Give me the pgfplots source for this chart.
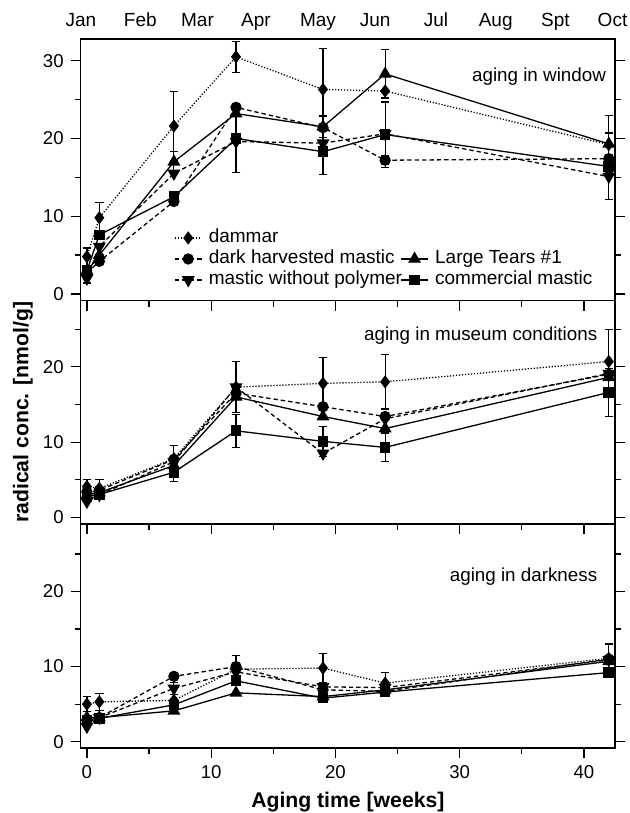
\documentclass[border=0pt]{standalone}
\usepackage{fontspec}
\setmainfont{Liberation Sans}
\usepackage{pgfplots}
\usepackage{pgfplotstable}
\pgfplotsset{compat=1.18}

% ---------- aging in window ----------
\pgfplotstableread{
x y e
0 4.8 1.1
1 9.8 2.0
7 21.6 4.4
12 30.5 2.0
19 26.3 5.3
24 26.1 0
42 19.2 0
}\WinDam
\pgfplotstableread{
x y e
0 2.7 0
1 4.2 0
7 11.9 0
12 24.0 0.4
19 21.4 0
24 17.2 0.6
42 17.4 0.5
}\WinDark
\pgfplotstableread{
x y e
0 2.9 0
1 5.0 0
7 17.0 1.3
12 23.2 0
19 21.5 1.4
24 28.3 3.1
42 19.3 3.7
}\WinLT
\pgfplotstableread{
x y e
0 2.0 0.6
1 6.1 0
7 15.5 0
12 19.6 0
19 19.4 0
24 20.6 0
42 15.1 0
}\WinMwp
\pgfplotstableread{
x y e
0 3.0 0
1 7.6 0
7 12.5 0
12 20.0 4.4
19 18.3 2.9
24 20.5 4.2
42 16.4 4.3
}\WinCom

% ---------- aging in museum conditions ----------
\pgfplotstableread{
x y e
0 4.1 0.9
1 3.85 1.15
7 7.8 1.8
12 17.3 3.4
19 17.8 3.4
24 18.0 3.6
42 20.7 4.2
}\MusDam
\pgfplotstableread{
x y e
0 3.4 0
1 3.6 0
7 7.7 0
12 16.5 0
19 14.7 0
24 13.4 0
42 19.0 0
}\MusDark
\pgfplotstableread{
x y e
0 3.0 0
1 3.3 0
7 6.9 0
12 16.0 0
19 13.4 0
24 11.8 0
42 18.6 0
}\MusLT
\pgfplotstableread{
x y e
0 2.1 0
1 3.0 0
7 7.4 0
12 17.3 0
19 8.5 0
24 13.1 0
42 19.1 0
}\MusMwp
\pgfplotstableread{
x y e
0 2.8 0
1 3.05 0
7 6.0 1.2
12 11.5 2.2
19 10.1 2.0
24 9.3 1.9
42 16.6 3.2
}\MusCom

% ---------- aging in darkness ----------
\pgfplotstableread{
x y e
0 5.0 1.0
1 5.3 1.15
7 5.5 0
12 9.65 1.8
19 9.8 1.9
24 7.8 1.4
42 11.1 1.9
}\DarkDam
\pgfplotstableread{
x y e
0 2.9 0
1 3.2 0
7 8.7 0
12 10.0 0
19 6.9 0
24 6.7 0
42 11.0 0
}\DarkDark
\pgfplotstableread{
x y e
0 3.2 0
1 3.2 0
7 4.1 0
12 6.5 0
19 6.0 0
24 6.9 0
42 10.7 0
}\DarkLT
\pgfplotstableread{
x y e
0 2.0 0
1 3.2 0
7 7.1 0.8
12 9.3 0
19 7.3 0
24 7.2 0
42 10.9 0
}\DarkMwp
\pgfplotstableread{
x y e
0 2.9 0
1 3.1 0
7 4.9 0
12 8.1 0
19 5.8 0
24 6.6 0
42 9.2 0
}\DarkCom

\tikzset{monthlab/.style={anchor=base, yshift=6pt, font=\fontsize{9.5}{10}\selectfont},
  annot/.style={anchor=east, inner sep=0pt, font=\fontsize{9.4}{10}\selectfont}}
\pgfplotsset{
  panel/.style={
    scale only axis, width=267.15pt,
    xmin=-0.5, xmax=42.5,
    axis line style={line width=0.65pt},
    tick style={line width=0.6pt, black},
    tick align=outside,
    major tick length=5pt, minor tick length=3pt,
    xtick={0,10,...,40}, minor xtick={5,15,...,35},
    ytick={0,10,20,30}, minor ytick={5,15,25},
    xtick pos=left, ytick pos=both, yticklabel pos=left,
    /pgf/number format/assume math mode=true,
    ticklabel style={font=\fontsize{9.3}{10}\selectfont},
    clip mode=individual,
    every axis plot/.append style={line width=0.65pt, black},
    error bars/y dir=both, error bars/y explicit,
    error bars/error bar style={line width=0.6pt, solid},
    error bars/error mark options={line width=0.6pt, solid, mark size=2.1pt, rotate=90},
  },
  sDam/.style={dash pattern=on 0.6pt off 0.9pt, mark=diamond*, mark size=2.8pt, mark options={solid}},
  sDark/.style={dash pattern=on 2.2pt off 1.5pt, mark=*, mark size=2.5pt, mark options={solid}},
  sLT/.style={solid, mark=triangle*, mark size=3.1pt, mark options={solid}},
  sMwp/.style={dash pattern=on 2.2pt off 1.5pt, mark=triangle*, mark size=3.1pt, mark options={solid, rotate=180}},
  sCom/.style={solid, mark=square*, mark size=2.35pt, mark options={solid}},
}
\newcommand{\lgap}{\hspace*{4pt}}

\begin{document}
\begin{tikzpicture}
\useasboundingbox (-40.35pt,19.5pt) rectangle (274.65pt,-387pt);

% ===== top panel =====
\begin{axis}[panel, at={(0pt,0pt)}, anchor=north west,
  height=130.75pt, ymin=-0.84, ymax=32.79, xticklabels={},
  legend columns=2,
  legend style={at={(axis cs:7.0,4.5)}, anchor=west, draw=none, fill=none,
    inner sep=0pt, font=\fontsize{9.5}{10}\selectfont,
    nodes={inner ysep=0.6pt, inner xsep=2.5pt, text height=7pt, text depth=2pt},
    column sep=-3.2pt, row sep=0.3pt},
  legend cell align=left,
  legend image code/.code={\draw[mark repeat=2,mark phase=2] plot coordinates {(0pt,0pt) (6.65pt,0pt) (13.3pt,0pt)};},
]
\addplot[sDam] table[x=x,y=y,y error=e]{\WinDam};
\addlegendentry{\lgap dammar}
\addlegendimage{empty legend}
\addlegendentry{}
\addplot[sDark] table[x=x,y=y,y error=e]{\WinDark};
\addlegendentry{\lgap dark harvested mastic}
\addplot[sLT] table[x=x,y=y,y error=e]{\WinLT};
\addlegendentry{\lgap Large Tears \#1}
\addplot[sMwp] table[x=x,y=y,y error=e]{\WinMwp};
\addlegendentry{\lgap mastic without polymer}
\addplot[sCom] table[x=x,y=y,y error=e]{\WinCom};
\addlegendentry{\lgap commercial mastic}
\node[annot] at (axis cs:41.8,28.0) {aging in window};
\node[monthlab] at (axis cs:-0.48,32.79) {Jan};
\node[monthlab] at (axis cs:4.3,32.79) {Feb};
\node[monthlab] at (axis cs:8.9,32.79) {Mar};
\node[monthlab] at (axis cs:13.6,32.79) {Apr};
\node[monthlab] at (axis cs:18.6,32.79) {May};
\node[monthlab] at (axis cs:23.2,32.79) {Jun};
\node[monthlab] at (axis cs:28.1,32.79) {Jul};
\node[monthlab] at (axis cs:32.9,32.79) {Aug};
\node[monthlab] at (axis cs:37.7,32.79) {Spt};
\node[monthlab] at (axis cs:42.3,32.79) {Oct};
\end{axis}

% ===== middle panel =====
\begin{axis}[panel, at={(0pt,-130.75pt)}, anchor=north west,
  height=111.75pt, ymin=-0.87, ymax=28.8, xticklabels={},
  ylabel={radical conc. [nmol/g]},
  ylabel style={at={(rel axis cs:0,0.5)}, yshift=28.85pt, anchor=center,
    font=\bfseries\fontsize{10.6}{12}\selectfont},
]
\addplot[sDam] table[x=x,y=y,y error=e]{\MusDam};
\addplot[sDark] table[x=x,y=y,y error=e]{\MusDark};
\addplot[sLT] table[x=x,y=y,y error=e]{\MusLT};
\addplot[sMwp] table[x=x,y=y,y error=e]{\MusMwp};
\addplot[sCom] table[x=x,y=y,y error=e]{\MusCom};
\node[annot] at (axis cs:41.1,24.2) {aging in museum conditions};
\end{axis}

% ===== bottom panel =====
\begin{axis}[panel, at={(0pt,-242.5pt)}, anchor=north west,
  height=112pt, ymin=-0.85, ymax=29.0,
  xlabel={Aging time [weeks]},
  xlabel style={font=\bfseries\fontsize{10.6}{12}\selectfont, yshift=0pt},
]
\addplot[sDam] table[x=x,y=y,y error=e]{\DarkDam};
\addplot[sDark] table[x=x,y=y,y error=e]{\DarkDark};
\addplot[sLT] table[x=x,y=y,y error=e]{\DarkLT};
\addplot[sMwp] table[x=x,y=y,y error=e]{\DarkMwp};
\addplot[sCom] table[x=x,y=y,y error=e]{\DarkCom};
\node[annot] at (axis cs:41.1,22.0) {aging in darkness};
\end{axis}
\end{tikzpicture}
\end{document}
